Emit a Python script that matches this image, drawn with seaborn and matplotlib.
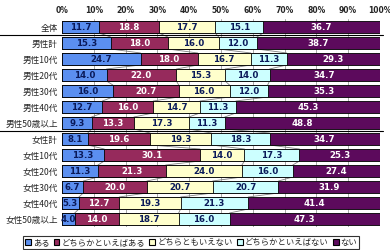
import numpy as np
import pandas as pd
import matplotlib
matplotlib.use("Agg")
import matplotlib.pyplot as plt
import seaborn as sns
from matplotlib.patches import Patch

# Data
groups = ["全体", "男性計", "男性10代", "男性20代", "男性30代", "男性40代", "男性50歳以上",
          "女性計", "女性10代", "女性20代", "女性30代", "女性40代", "女性50歳以上"]
series = ["ある", "どちらかといえばある", "どちらともいえない", "どちらかといえばない", "ない"]
aru = [11.7, 15.3, 24.7, 14.0, 16.0, 12.7, 9.3, 8.1, 13.3, 11.3, 6.7, 5.3, 4.0]
dochiraka_aru = [18.8, 18.0, 18.0, 22.0, 20.7, 16.0, 13.3, 19.6, 30.1, 21.3, 20.0, 12.7, 14.0]
dochiramo = [17.7, 16.0, 16.7, 15.3, 16.0, 14.7, 17.3, 19.3, 14.0, 24.0, 20.7, 19.3, 18.7]
dochiraka_nai = [15.1, 12.0, 11.3, 14.0, 12.0, 11.3, 11.3, 18.3, 17.3, 16.0, 20.7, 21.3, 16.0]
nai = [36.7, 38.7, 29.3, 34.7, 35.3, 45.3, 48.8, 34.7, 25.3, 27.4, 31.9, 41.4, 47.3]
tick_labels = ["0%", "10%", "20%", "30%", "40%", "50%", "60%", "70%", "80%", "90%", "100%"]

colors = ["#5b8ff0", "#962a5c", "#ffffcc", "#ccffff", "#5c0a5c"]
text_colors = ["#0a1a5a", "white", "#0a1a5a", "#0a1a5a", "white"]

df = pd.DataFrame({"group": groups, series[0]: aru, series[1]: dochiraka_aru,
                   series[2]: dochiramo, series[3]: dochiraka_nai, series[4]: nai})
cum = df[series].cumsum(axis=1)

sns.set_style("white")
plt.rcParams["font.family"] = ["Noto Sans CJK JP", "DejaVu Sans"]

fig = plt.figure(figsize=(3.9, 2.5), dpi=100)
ax = fig.add_axes([0.159, 0.092, 0.815, 0.832])

# vertical grid
for x in range(10, 101, 10):
    ax.axvline(x, color="#999999", lw=0.6, zorder=0)

# stacked bars drawn from the right-most cumulative back
for i in range(len(series) - 1, -1, -1):
    sns.barplot(x=cum[series[i]], y=df["group"], color=colors[i], orient="h",
                width=0.75, edgecolor="black", linewidth=0.6, ax=ax, zorder=2,
                saturation=1)

# series lines
for i in range(len(series) - 1):
    for r in range(len(groups) - 1):
        ax.plot([cum[series[i]][r], cum[series[i]][r + 1]], [r + 0.375, r + 1 - 0.375],
                color="#808080", lw=0.6, zorder=1)

# value labels
for i, s in enumerate(series):
    for r in range(len(groups)):
        v = df[s][r]
        center = cum[s][r] - v / 2
        ax.text(center, r, f"{v:.1f}", ha="center", va="center", fontsize=6.2,
                color=text_colors[i], fontweight="bold", zorder=3,
                family=["DejaVu Sans"])

ax.set_xlim(0, 100)
ax.set_ylim(len(groups) - 0.5, -0.5)
ax.set_xticks(range(0, 101, 10))
ax.set_xticklabels(tick_labels, fontsize=5.5, fontweight="bold", family=["DejaVu Sans"])
ax.xaxis.tick_top()
ax.tick_params(axis="x", length=0, pad=3)
ax.tick_params(axis="y", length=0, pad=3, labelsize=6.2)
ax.set_xlabel("")
ax.set_ylabel("")
for sp in ax.spines.values():
    sp.set_visible(False)

# separator lines
for yline in [0.5, 6.5]:
    ax.plot([-0.2, 1.01], [yline, yline], color="black", lw=0.8, clip_on=False,
            transform=ax.get_yaxis_transform(), zorder=4)

handles = [Patch(facecolor=c, edgecolor="black", linewidth=0.8) for c in colors]
leg = fig.legend(handles, series, loc="lower center", bbox_to_anchor=(0.49, 0.0),
                 ncol=5, fontsize=6, frameon=True, fancybox=False,
                 handlelength=0.7, handleheight=0.7, handletextpad=0.25,
                 columnspacing=0.5, borderpad=0.25, borderaxespad=0.1)
leg.get_frame().set_edgecolor("black")
leg.get_frame().set_linewidth(0.8)

fig.savefig("out.png", dpi=100)
